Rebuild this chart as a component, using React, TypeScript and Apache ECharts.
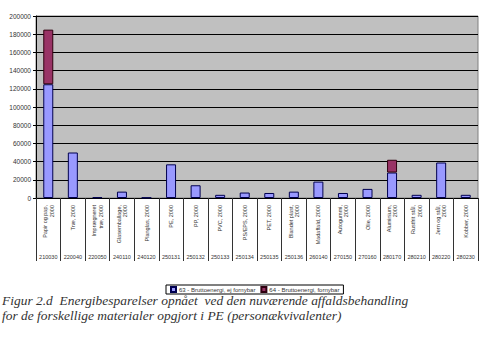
import React, { useEffect, useRef } from "react";
import * as echarts from "echarts";

const categories = [
  "Papir og pap,\n2000",
  "Træ, 2000",
  "Imprægneret\ntræ, 2000",
  "Glasemballage,\n2000",
  "Planglas, 2000",
  "PE, 2000",
  "PP, 2000",
  "PVC, 2000",
  "PS/EPS, 2000",
  "PET, 2000",
  "Blandet plast,\n2000",
  "Madaffald, 2000",
  "Autogummi,\n2000",
  "Olie, 2000",
  "Aluminium,\n2000",
  "Rustfrit stål,\n2000",
  "Jern og stål,\n2000",
  "Kobber, 2000",
];

const codes = [
  "210030", "220040", "220050", "240110", "240120", "250131", "250132", "250133", "250134",
  "250135", "250136", "260140", "270150", "270160", "280170", "280210", "280220", "280230",
];

const seriesNames = ["63 - Bruttoenergi, ej fornybar", "64 - Bruttoenergi, fornybar"];

const nonRenewable = [125000, 50000, 800, 7000, 500, 37000, 14000, 3500, 6000, 5500, 7000, 18000, 5500, 10000, 28000, 3500, 39000, 3500];
const renewable = [60000, null, null, null, null, null, null, null, null, null, null, null, null, null, 14000, null, null, null];

const captionLines = [
  "Figur 2.d  Energibesparelser opnået  ved den nuværende affaldsbehandling",
  "for de forskellige materialer opgjort i PE (personækvivalenter)",
];

export default function App() {
  const ref = useRef<HTMLDivElement>(null);
  useEffect(() => {
    if (!ref.current) return;
    const chart = echarts.init(ref.current, null, { renderer: "svg" });
    const font = "Liberation Sans, Arial, sans-serif";
    const captionFont = "italic 13px 'Liberation Serif', 'Times New Roman', serif";
    chart.setOption({
      animation: false,
      backgroundColor: "#ffffff",
      grid: {
        left: 36,
        right: 11,
        top: 16,
        bottom: 143,
        show: true,
        backgroundColor: "#c0c0c0",
        borderColor: "#808080",
        borderWidth: 1,
      },
      legend: {
        left: 166,
        top: 285,
        orient: "horizontal",
        data: seriesNames,
        backgroundColor: "#ffffff",
        borderColor: "#000000",
        borderWidth: 1,
        borderRadius: 0,
        padding: [1, 4, 1, 4],
        itemWidth: 5,
        itemHeight: 5,
        itemGap: 5,
        icon: "rect",
        textStyle: { fontSize: 6, fontFamily: font, color: "#333", padding: [0, 0, 0, -2] },
      },
      xAxis: [
        {
          type: "category",
          data: categories,
          gridIndex: 0,
          axisLine: { show: true, lineStyle: { color: "#000", width: 1 } },
          axisTick: { show: true, length: 63, interval: 0, lineStyle: { color: "#333", width: 1 } },
          axisLabel: {
            interval: 0,
            rotate: 90,
            fontSize: 5.5,
            lineHeight: 6.5,
            margin: 7,
            fontFamily: font,
            color: "#333",
          },
          splitLine: { show: false },
        },
        {
          type: "category",
          data: codes,
          gridIndex: 0,
          position: "bottom",
          offset: 56,
          axisLine: { show: false },
          axisTick: { show: false },
          axisLabel: { interval: 0, fontSize: 5.5, margin: 0, fontFamily: font, color: "#333" },
        },
      ],
      yAxis: {
        type: "value",
        min: 0,
        max: 200000,
        interval: 20000,
        axisLine: { show: true, lineStyle: { color: "#000" } },
        axisTick: { show: true, length: 3, lineStyle: { color: "#000" } },
        axisLabel: {
          fontSize: 6.5,
          margin: 5,
          fontFamily: font,
          color: "#333",
          formatter: (v: number) => String(v),
        },
        splitLine: { show: true, lineStyle: { color: "#000", width: 1 } },
      },
      series: [
        {
          name: seriesNames[0],
          type: "bar",
          stack: "total",
          xAxisIndex: 0,
          barWidth: 10,
          data: nonRenewable,
          itemStyle: { color: "#9999ff", borderColor: "#000050", borderWidth: 1 },
        },
        {
          name: seriesNames[1],
          type: "bar",
          stack: "total",
          xAxisIndex: 0,
          barWidth: 10,
          data: renewable,
          itemStyle: { color: "#993366", borderColor: "#300010", borderWidth: 1 },
        },
      ],
      graphic: [
        {
          type: "text",
          x: 2,
          y: 294.5,
          scaleX: 1.035,
          style: {
            text: captionLines[0],
            font: captionFont,
            lineHeight: 13,
            fill: "#333",
          },
        },
        {
          type: "text",
          x: 2,
          y: 309.5,
          scaleX: 1.035,
          style: {
            text: captionLines[1],
            font: captionFont,
            lineHeight: 13,
            fill: "#333",
          },
        },
      ],
    });
    return () => chart.dispose();
  }, []);
  return (
    <div
      ref={ref}
      style={{ position: "fixed", left: 0, top: 0, width: 489, height: 341, background: "#fff" }}
    />
  );
}
